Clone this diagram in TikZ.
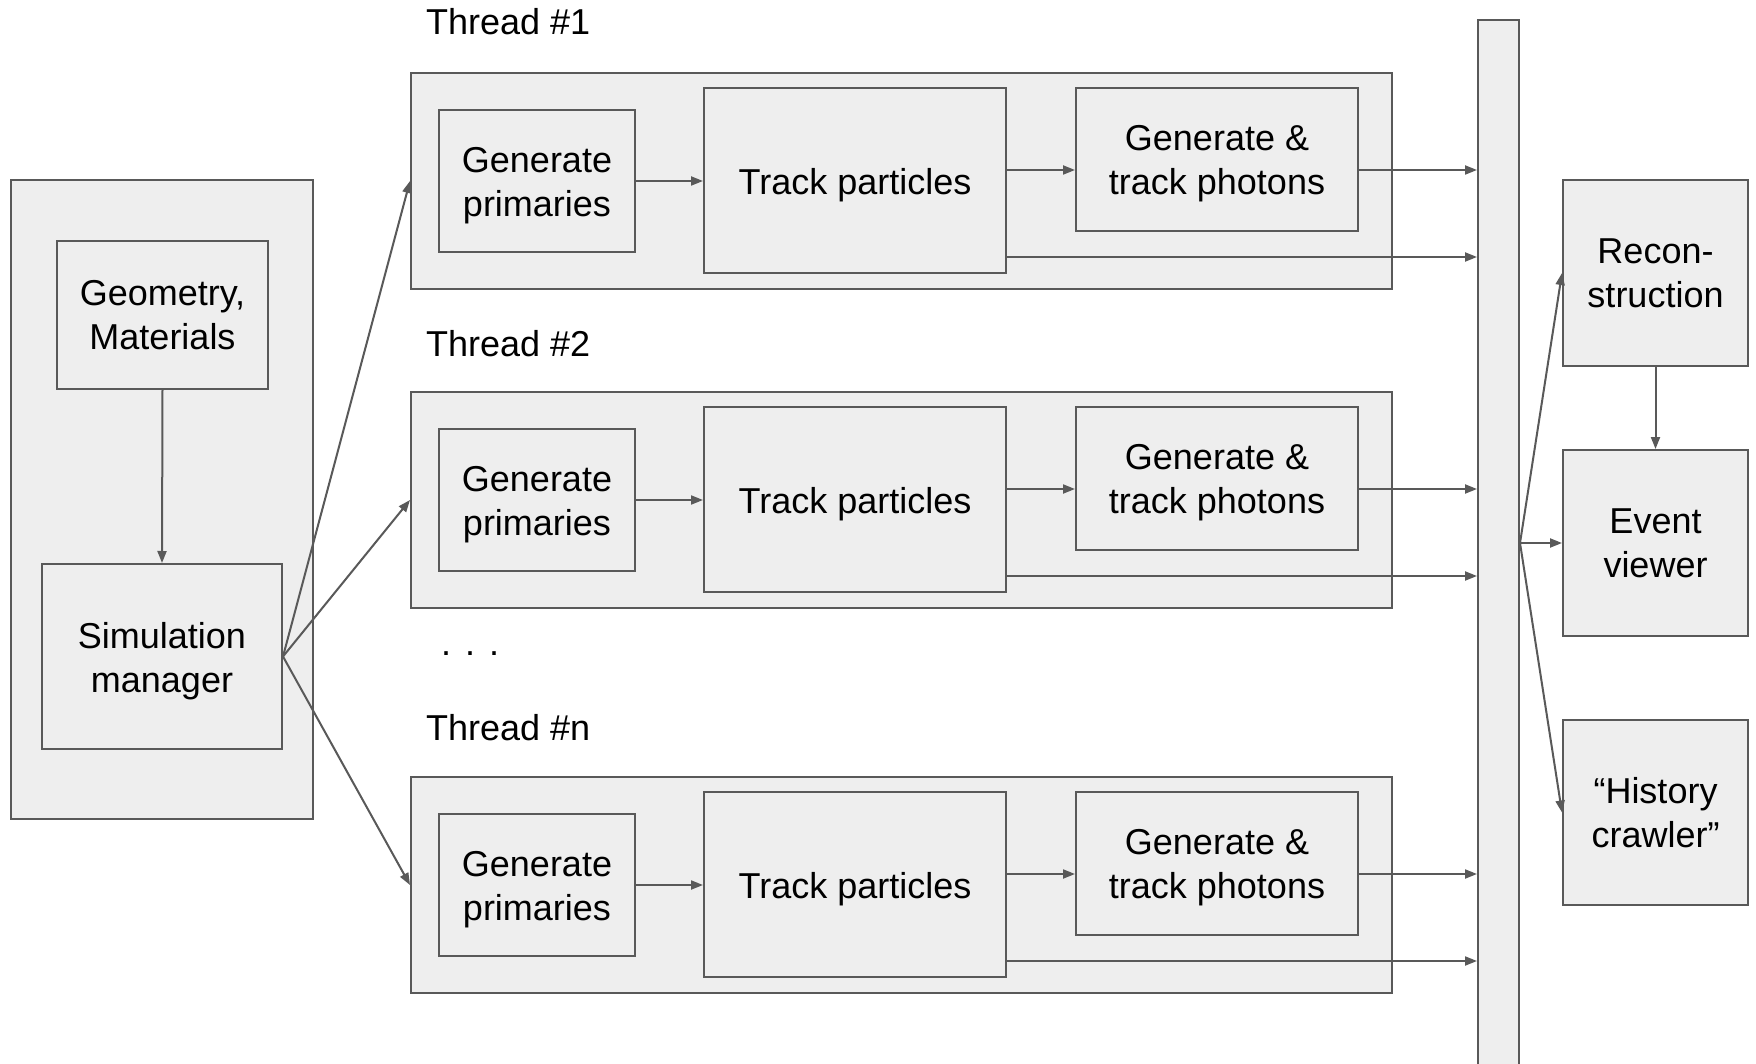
\documentclass[tikz,border=0pt]{standalone}
\usepackage{fontspec}
\setmainfont{Liberation Sans}
\usetikzlibrary{arrows.meta,calc}
\definecolor{edge}{RGB}{89,89,89}
\definecolor{boxfill}{RGB}{238,238,238}
\tikzset{
  box/.style={draw=edge, fill=boxfill, line width=2pt, inner sep=0pt, anchor=north west,
    align=center, font=\fontsize{36}{44}\selectfont},
  lbl/.style={font=\fontsize{36}{44}\selectfont, inner sep=0pt, align=center},
  arr/.style={draw=edge, line width=2pt, -{Triangle[length=12pt,width=9pt]}},
}
\begin{document}
\begin{tikzpicture}[x=1pt,y=-1pt]
\useasboundingbox[fill=white] (0,0) rectangle (1756,1064);

% left block
\node[box, minimum width=302, minimum height=639] (left) at (10,179) {};
\node[box, minimum width=211, minimum height=148] (geo) at (56,240) {Geometry,\\Materials};
\node[box, minimum width=240, minimum height=185] (sim) at (41,563) {};
\node[lbl] (simtext) at ([yshift=-4.5pt]sim.center) {Simulation\\manager};
\draw[arr] (geo.south) -- (sim.north);

% collector bar
\node[box, minimum width=41, minimum height=1070] (bar) at (1477,19) {};

% threads
\foreach \i/\dy/\ly in {1/0/22, 2/319/344, n/704/728}{
  \node[lbl, anchor=west] (lab\i) at (426,\ly) {Thread \#\i};
  \node[box, minimum width=981, minimum height=216] (t\i) at (410,72+\dy) {};
  \node[box, minimum width=196, minimum height=142] (g\i) at (438,109+\dy) {};
  \node[lbl] (gt\i) at ([yshift=-4.5pt]g\i.center) {Generate\\primaries};
  \node[box, minimum width=302, minimum height=185] (k\i) at (703,87+\dy) {};
  \node[lbl] (kt\i) at ([yshift=-4.5pt]k\i.center) {Track particles};
  \node[box, minimum width=282, minimum height=143] (p\i) at (1075,87+\dy) {};
  \node[lbl] (pt\i) at ([yshift=-4.5pt]p\i.center) {Generate \&\\track photons};
  \draw[arr] (g\i.east) -- (g\i.east -| k\i.west);
  \coordinate (a\i) at ([yshift=-83pt]k\i.north east);
  \draw[arr] (a\i) -- (a\i -| p\i.west);
  \draw[arr] (a\i -| p\i.east) -- (a\i -| bar.west);
  \coordinate (b\i) at ([yshift=17pt]k\i.south east);
  \draw[arr] (b\i) -- (b\i -| bar.west);
  \draw[arr] (sim.east) -- (t\i.west);
}

\node[lbl, anchor=base west] (dots) at (441,655) {.\hspace{14pt}.\hspace{14pt}.};

% right side
\node[box, minimum width=185, minimum height=186] (rec) at (1562,179) {Recon-\\struction};
\node[box, minimum width=185, minimum height=186] (ev) at (1562,449) {Event\\viewer};
\node[box, minimum width=185, minimum height=185] (hist) at (1562,719) {“History\\crawler”};
\draw[arr] (rec.south) -- (ev.north);
\coordinate (fan) at (bar.east |- ev.west);
\draw[arr] (fan) -- (rec.west);
\draw[arr] (fan) -- (ev.west);
\draw[arr] (fan) -- (hist.west);
\end{tikzpicture}
\end{document}
